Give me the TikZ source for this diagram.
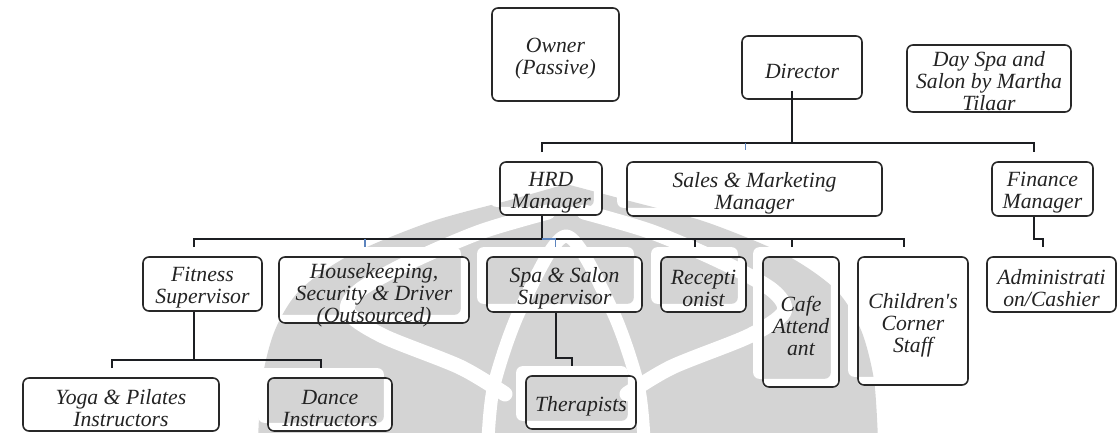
\documentclass[tikz,border=0pt]{standalone}
\usepackage{fontspec}
\setmainfont{Liberation Serif}
\usetikzlibrary{calc}

\pgfdeclarelayer{wm}
\pgfdeclarelayer{shade}
\pgfsetlayers{wm,shade,main}

\definecolor{wmgray}{RGB}{212,212,212}
\definecolor{linec}{RGB}{28,30,34}
\definecolor{boxc}{RGB}{40,40,40}
\definecolor{tickblue}{RGB}{92,132,190}
\definecolor{txt}{RGB}{35,35,35}

\tikzset{
  orgbox/.style={draw=boxc, line width=1.6pt, rounded corners=6pt, inner sep=0pt},
  orgtext/.style={inner sep=0pt, align=center, text=txt, font=\fontsize{21.7}{22}\selectfont\itshape},
  link/.style={draw=linec, line width=2pt},
  bluelink/.style={draw=tickblue, line width=1.5pt},
  band/.style={draw=white, line width=15pt, line cap=round, line join=round},
}

% box: name, centre x, centre y, width, height, text (set slightly below centre)
\newcommand\orgnode[6]{%
  \node[orgbox, minimum width=#4pt, minimum height=#5pt] (#1) at (#2,#3) {};
  \node[orgtext] (#1-txt) at ($(#1.center)+(0,4)$) {#6};
  \begin{pgfonlayer}{shade}
    \fill[white, even odd rule, rounded corners=6pt]
      ($(#1.south west)+(-9,-9)$) rectangle ($(#1.north east)+(-9,-9)$)
      (#1.south west) rectangle (#1.north east);
  \end{pgfonlayer}
  \coordinate (#1-t) at ($(#1.north)+(-9,-9)$);
  \coordinate (#1-b) at ($(#1.south)+(-9,0)$);
}

\begin{document}
\begin{tikzpicture}[x=1pt,y=-1pt]
\useasboundingbox (0,0) rectangle (1120,432);

% faint emblem in the background
\begin{pgfonlayer}{wm}
  \begin{scope}
    \clip (0,0) rectangle (1120,432);
    \fill[wmgray]
      plot[smooth] coordinates {(258,440) (262,380) (275,330) (300,290) (350,255) (430,222) (510,200) (566,184)}
      -- plot[smooth] coordinates {(566,184) (626,200) (706,222) (786,255) (836,290) (861,330) (874,380) (878,440)}
      -- cycle;
    % side horns
    \draw[band] plot[smooth] coordinates {(548,212) (480,232) (410,262) (360,290) (348,312) (383,336) (460,367) (505,394)};
    \draw[band] plot[smooth] coordinates {(584,212) (652,232) (722,262) (772,290) (784,312) (749,336) (672,367) (627,394)};
    % central arch
    \draw[band, line width=13pt] plot[smooth] coordinates {(488,440) (494,385) (520,310) (566,236) (612,310) (638,385) (644,440)};
  \end{scope}
\end{pgfonlayer}

% boxes
\orgnode{own}{555.5}{54.5}{127}{93}{Owner\\(Passive)}
\orgnode{dir}{802}{67.5}{120}{63}{Director}
\orgnode{spa0}{989}{78.5}{164}{67}{}
\node[orgtext, anchor=north] at ($(spa0.north)+(0,7)$) {Day Spa and\\Salon by Martha\\Tilaar};

\orgnode{hrd}{551}{188.5}{102}{53}{HRD\\Manager}
\orgnode{sal}{754.5}{189}{255}{54}{Sales \& Marketing\\Manager}
\orgnode{fin}{1042.5}{189}{101}{54}{Finance\\Manager}

\orgnode{fit}{202.5}{284}{119}{54}{Fitness\\Supervisor}
\orgnode{hk}{374}{290}{190}{66}{}
\node[orgtext, anchor=north] at ($(hk.north)+(0,7)$) {Housekeeping,\\Security \& Driver\\(Outsourced)};
\orgnode{spa}{564.5}{284.5}{155}{55}{Spa \& Salon\\Supervisor}
\orgnode{rec}{703.5}{284.5}{85}{55}{Recepti\\onist}
\orgnode{caf}{801}{322}{76}{130}{Cafe\\Attend\\ant}
\orgnode{chi}{913}{321}{110}{128}{Children\textquotesingle s\\Corner\\Staff}
\orgnode{adm}{1051.5}{284.5}{129}{55}{Administrati\\on/Cashier}

\orgnode{yog}{121}{404.5}{196}{53}{Yoga \& Pilates\\Instructors}
\orgnode{dan}{330}{404.5}{124}{53}{Dance\\Instructors}
\orgnode{the}{581}{402.5}{110}{53}{Therapists}

% bus lines
\coordinate (busA) at ($(hrd-t)+(0,-9)$);
\coordinate (busB) at ($(fit-t)+(0,-8)$);
\coordinate (busC) at ($(the-t)+(0,-8)$);
\coordinate (busD) at ($(yog-t)+(0,-8)$);
\coordinate (dirS) at ($(dir-b)+(-1,-9)$);

% director to managers
\draw[link] (dirS) -- (dirS |- busA);
\draw[link] (hrd-t) -- (hrd-t |- busA) -- (fin-t |- busA) -- (fin-t);
\draw[bluelink] (sal-t |- busA) -- ($(sal-t)+(0,-2)$);

% HRD manager to staff
\draw[link] (hrd-b) -- (hrd-b |- busB);
\draw[link] (fit-t) -- (fit-t |- busB) -- (chi-t |- busB) -- (chi-t);
\draw[link] (rec-t |- busB) -- (rec-t);
\draw[link] (caf-t |- busB) -- (caf-t);
\draw[bluelink] (hk-t |- busB) -- (hk-t);
\draw[bluelink] (hrd-b |- busB) -- (spa-t |- busB) -- (spa-t);

% finance to administration
\draw[link] (fin-b) -- (fin-b |- busB) -- (adm-t |- busB) -- (adm-t);

% spa supervisor to therapists
\draw[link] (spa-b) -- (spa-b |- busC) -- (the-t |- busC) -- (the-t);

% fitness supervisor to instructors
\draw[link] (fit-b) -- (fit-b |- busD);
\draw[link] (yog-t) -- (yog-t |- busD) -- (dan-t |- busD) -- (dan-t);
\end{tikzpicture}
\end{document}
